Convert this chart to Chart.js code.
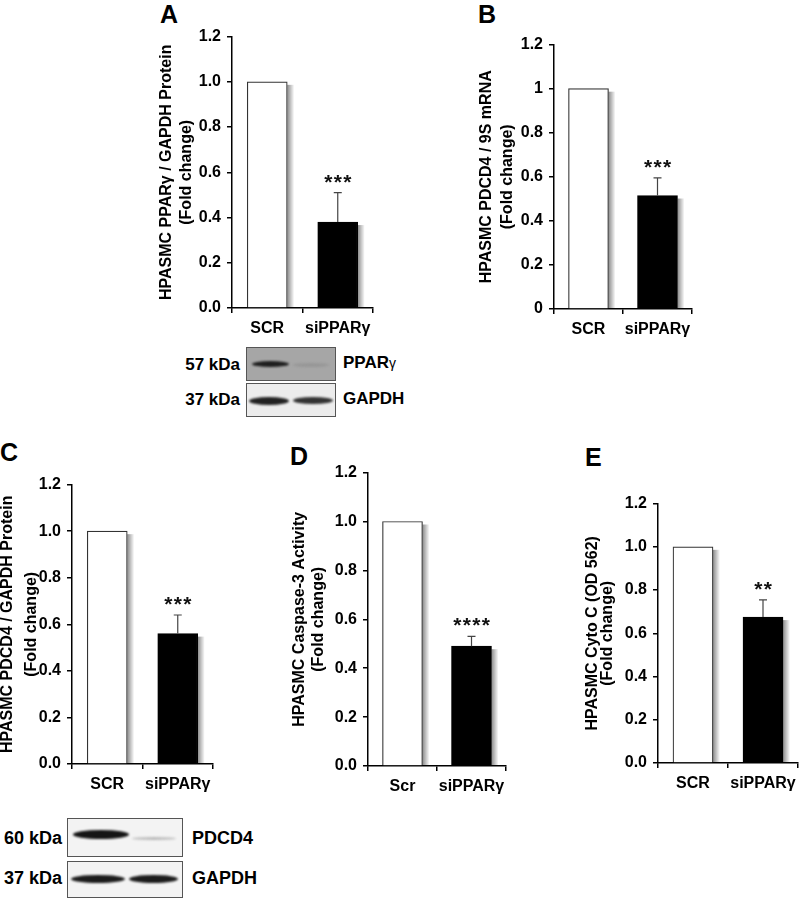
<!DOCTYPE html>
<html>
<head>
<meta charset="utf-8">
<script src="https://cdn.jsdelivr.net/npm/chart.js@4.4.1/dist/chart.umd.min.js"></script>
<style>
  body { margin: 0; width: 800px; height: 899px; overflow: hidden; background: #fff; position: relative;
         font-family: "Liberation Sans", Arial, sans-serif; color: #000; }
  canvas { position: absolute; }
  .letter { position: absolute; font-weight: bold; font-size: 25px; line-height: 25px; }
  .txt { position: absolute; font-weight: bold; font-size: 17px; line-height: 20px; white-space: nowrap; }
  .right { text-align: right; }
  .blot { position: absolute; box-sizing: border-box; border: 1.5px solid #555; overflow: hidden; }
  .band { position: absolute; border-radius: 50%; filter: blur(1.2px); }
</style>
</head>
<body>

<div class="letter" style="left:160px;top:2px">A</div>
<div class="letter" style="left:478px;top:2px">B</div>
<div class="letter" style="left:0px;top:440px">C</div>
<div class="letter" style="left:290px;top:444px">D</div>
<div class="letter" style="left:585px;top:445px">E</div>

<!-- blot under panel A -->
<div class="txt right" style="left:160px;width:80px;top:355px">57 kDa</div>
<div class="txt right" style="left:160px;width:80px;top:390px">37 kDa</div>
<div class="txt" style="left:343px;top:353px">PPAR<span style="font-size:14px;font-weight:normal">γ</span></div>
<div class="txt" style="left:343px;top:389px">GAPDH</div>
<div class="blot" style="left:246px;top:347px;width:90px;height:34px;background:#a6a6a6">
  <div class="band" style="left:5px;top:13px;width:37px;height:6px;background:#1e1e1e"></div>
  <div class="band" style="left:46px;top:15px;width:36px;height:4px;background:#979797"></div>
</div>
<div class="blot" style="left:246px;top:383px;width:90px;height:34px;background:#ececec">
  <div class="band" style="left:2px;top:13px;width:40px;height:8px;background:#222"></div>
  <div class="band" style="left:46px;top:13px;width:40px;height:7px;background:#333"></div>
</div>

<!-- blot under panel C -->
<div class="txt right" style="left:0px;width:62px;top:828px;font-size:18px">60 kDa</div>
<div class="txt right" style="left:0px;width:62px;top:868px;font-size:18px">37 kDa</div>
<div class="txt" style="left:192px;top:828px;font-size:18px">PDCD4</div>
<div class="txt" style="left:192px;top:868px;font-size:18px">GAPDH</div>
<div class="blot" style="left:67px;top:818px;width:116px;height:39px;background:#f3f3f3">
  <div class="band" style="left:5px;top:11px;width:56px;height:9px;background:#151515"></div>
  <div class="band" style="left:64px;top:18px;width:44px;height:3px;background:#bbb"></div>
</div>
<div class="blot" style="left:67px;top:861px;width:116px;height:37px;background:#f3f3f3">
  <div class="band" style="left:3px;top:13px;width:54px;height:8px;background:#1c1c1c"></div>
  <div class="band" style="left:61px;top:13px;width:49px;height:8px;background:#1c1c1c"></div>
</div>

<script>
// categories
const categories = ['SCR', 'siPPARγ'];
const categoriesD = ['Scr', 'siPPARγ'];

// y ticks
const yTickValues = [0, 0.2, 0.4, 0.6, 0.8, 1.0, 1.2];
const yTickLabels = ['0.0', '0.2', '0.4', '0.6', '0.8', '1.0', '1.2'];
const yTickLabelsB = ['0', '0.2', '0.4', '0.6', '0.8', '1', '1.2'];

// A: PPARγ / GAPDH protein
const pparProtein = [1.0, 0.38];
const pparProteinErr = [0, 0.13];
const pparProteinStars = ['', '***'];

// B: PDCD4 / 9S mRNA
const pdcd4Mrna = [1.0, 0.515];
const pdcd4MrnaErr = [0, 0.08];
const pdcd4MrnaStars = ['', '***'];

// C: PDCD4 / GAPDH protein
const pdcd4Protein = [1.0, 0.56];
const pdcd4ProteinErr = [0, 0.08];
const pdcd4ProteinStars = ['', '***'];

// D: caspase-3 activity
const caspase3 = [1.0, 0.49];
const caspase3Err = [0, 0.04];
const caspase3Stars = ['', '****'];

// E: cyto C
const cytoC = [1.0, 0.675];
const cytoCErr = [0, 0.08];
const cytoCStars = ['', '**'];

Chart.defaults.font.family = '"Liberation Sans", Arial, sans-serif';
Chart.defaults.color = '#000';

// bar shadow, error bars and asterisks
const errorBars = {
  id: 'errorBars',
  beforeDatasetsDraw(chart) {
    const ctx = chart.ctx;
    chart.getDatasetMeta(0).data.forEach(bar => {
      const x0 = bar.x + bar.width / 2;
      const g = ctx.createLinearGradient(x0, 0, x0 + 7, 0);
      g.addColorStop(0, 'rgba(0,0,0,0.45)');
      g.addColorStop(1, 'rgba(0,0,0,0)');
      ctx.save();
      ctx.fillStyle = g;
      ctx.fillRect(x0, bar.y + 3, 7, bar.base - bar.y - 3);
      ctx.restore();
    });
  },
  afterDatasetsDraw(chart) {
    const ctx = chart.ctx;
    const yScale = chart.scales.y;
    const ds = chart.data.datasets[0];
    chart.getDatasetMeta(0).data.forEach((bar, i) => {
      const err = ds.errors[i];
      let top = bar.y;
      ctx.save();
      if (err > 0) {
        top = yScale.getPixelForValue(ds.data[i] + err);
        ctx.strokeStyle = '#444';
        ctx.lineWidth = 1.2;
        ctx.beginPath();
        ctx.moveTo(bar.x, bar.y);
        ctx.lineTo(bar.x, top);
        ctx.moveTo(bar.x - 4, top);
        ctx.lineTo(bar.x + 4, top);
        ctx.stroke();
      }
      const s = ds.stars[i];
      if (s) {
        ctx.fillStyle = '#111';
        ctx.font = 'bold 21px "Liberation Sans", Arial, sans-serif';
        ctx.textAlign = 'center';
        ctx.textBaseline = 'alphabetic';
        for (let k = 0; k < s.length; k++) {
          ctx.fillText('*', bar.x + (k - (s.length - 1) / 2) * 9.5, top - 4);
        }
      }
      ctx.restore();
    });
  }
};

function makePanel(p) {
  const padTop = 14, padRight = 8, xH = 40;
  const cLeft = Math.round(p.line1 - p.lh / 2);
  const cTop = Math.round(p.top - padTop);
  const yW = p.left - cLeft;
  const w = Math.round(p.right - cLeft + padRight);
  const h = Math.round(p.bottom - cTop + xH);

  const cv = document.createElement('canvas');
  cv.width = w; cv.height = h;
  cv.style.left = cLeft + 'px';
  cv.style.top = cTop + 'px';
  cv.style.width = w + 'px';
  cv.style.height = h + 'px';
  document.body.appendChild(cv);

  new Chart(cv, {
    type: 'bar',
    data: {
      labels: p.labels,
      datasets: [{
        data: p.values,
        errors: p.errors,
        stars: p.stars,
        backgroundColor: ['#fff', '#000'],
        borderColor: ['#333', '#000'],
        borderWidth: 1.2,
        barThickness: 40
      }]
    },
    options: {
      responsive: false,
      devicePixelRatio: 1,
      animation: false,
      events: [],
      layout: { padding: { top: padTop, right: padRight, left: 0, bottom: 0 } },
      plugins: { legend: { display: false }, tooltip: { enabled: false } },
      scales: {
        x: {
          type: 'category',
          afterFit: s => { s.height = xH; },
          grid: { drawOnChartArea: false, offset: true, tickLength: 5, color: '#000', lineWidth: 1.5 },
          border: { color: '#000', width: 1.5 },
          ticks: { font: { size: 16, weight: 'bold' }, color: '#000', padding: 6, maxRotation: 0 }
        },
        y: {
          min: 0,
          max: 1.2,
          afterFit: s => { s.width = yW; },
          afterBuildTicks: s => { s.ticks = yTickValues.map(v => ({ value: v })); },
          grid: { drawOnChartArea: false, tickLength: 5, color: '#000', lineWidth: 1.5 },
          border: { color: '#000', width: 1.5 },
          ticks: {
            font: { size: 16, weight: 'bold' }, color: '#000', padding: 6, autoSkip: false,
            callback: (v, i) => p.tickLabels[i]
          },
          title: {
            display: true,
            text: [p.title, '(Fold change)'],
            font: { size: 16, weight: 'bold', lineHeight: p.lh / 16 },
            color: '#000',
            padding: 0
          }
        }
      }
    },
    plugins: [errorBars]
  });
}

makePanel({ left: 232, right: 373, top: 35, bottom: 308, line1: 167, lh: 20,
  title: 'HPASMC PPARγ / GAPDH Protein', labels: categories, tickLabels: yTickLabels,
  values: pparProtein, errors: pparProteinErr, stars: pparProteinStars });

makePanel({ left: 554, right: 692, top: 43, bottom: 309, line1: 486, lh: 21,
  title: 'HPASMC PDCD4 / 9S mRNA', labels: categories, tickLabels: yTickLabelsB,
  values: pdcd4Mrna, errors: pdcd4MrnaErr, stars: pdcd4MrnaStars });

makePanel({ left: 72, right: 213, top: 483, bottom: 764, line1: 8, lh: 24,
  title: 'HPASMC PDCD4 / GAPDH Protein', labels: categories, tickLabels: yTickLabels,
  values: pdcd4Protein, errors: pdcd4ProteinErr, stars: pdcd4ProteinStars });

makePanel({ left: 368, right: 506, top: 471, bottom: 766, line1: 299, lh: 19,
  title: 'HPASMC Caspase-3 Activity', labels: categoriesD, tickLabels: yTickLabels,
  values: caspase3, errors: caspase3Err, stars: caspase3Stars });

makePanel({ left: 658, right: 798, top: 502, bottom: 763, line1: 592, lh: 15,
  title: 'HPASMC Cyto C (OD 562)', labels: categories, tickLabels: yTickLabels,
  values: cytoC, errors: cytoCErr, stars: cytoCStars });
</script>
</body>
</html>
